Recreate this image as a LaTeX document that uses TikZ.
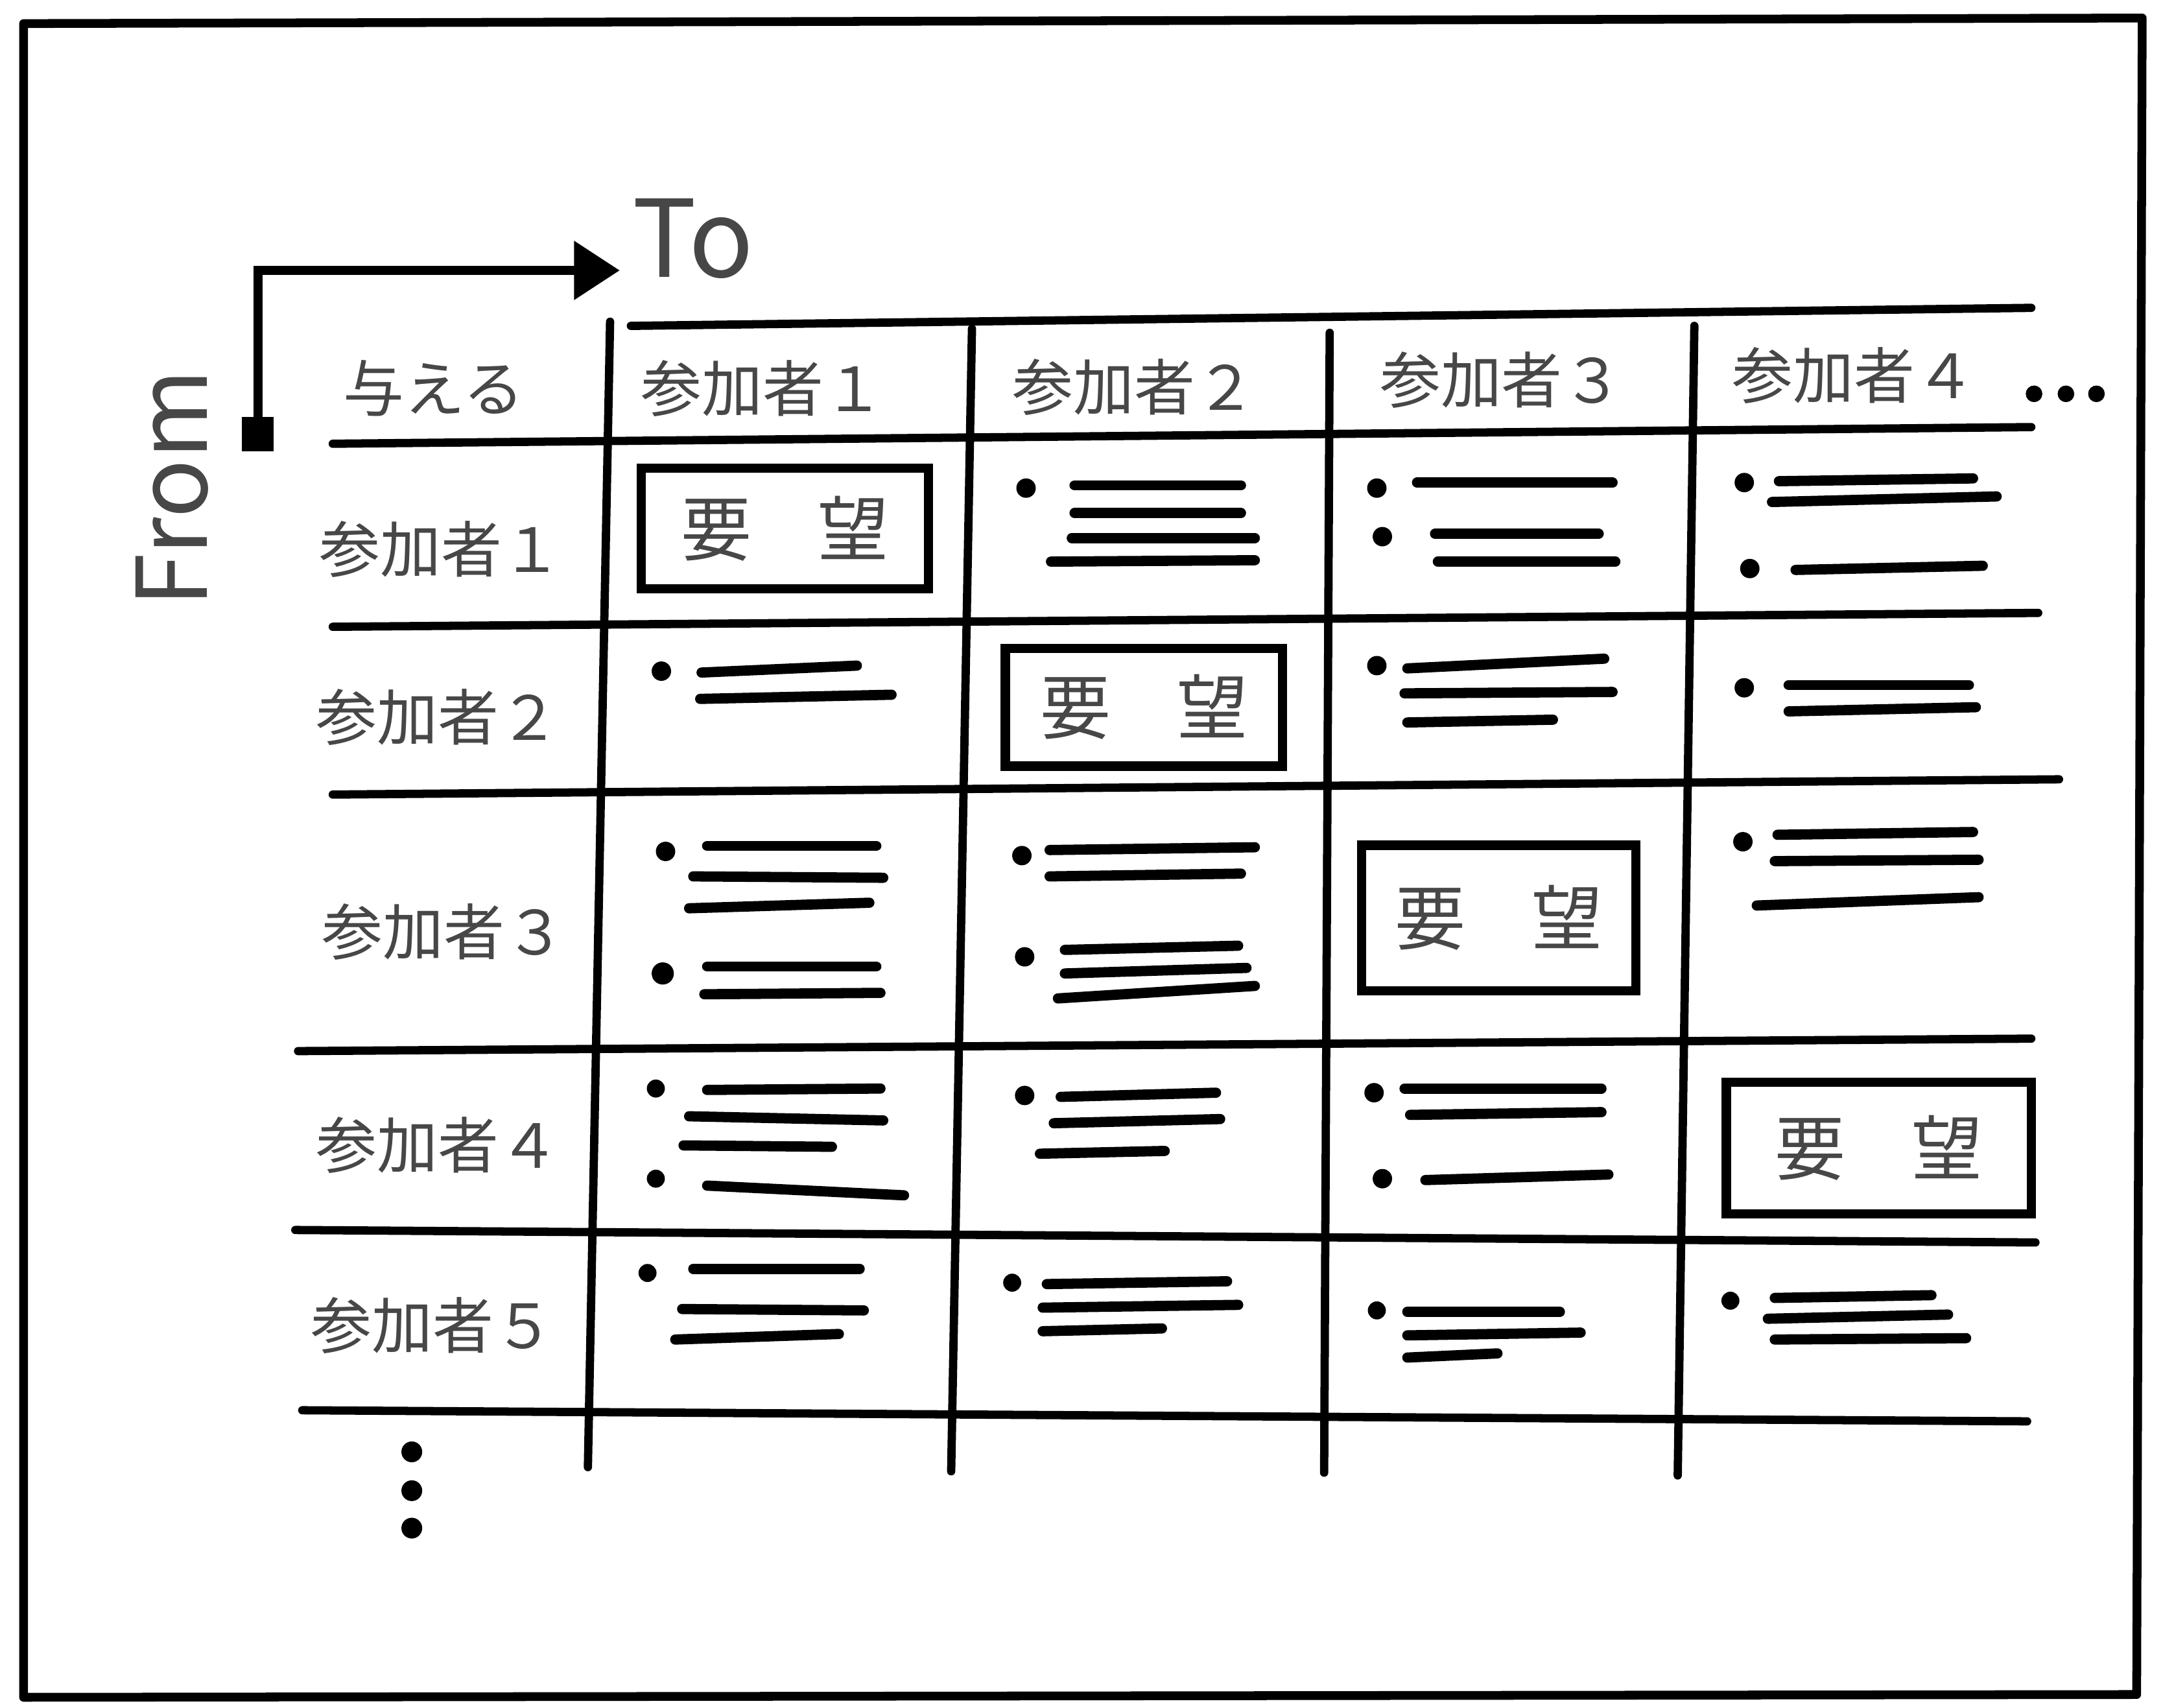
\documentclass[tikz,border=0pt]{standalone}
\usepackage{fontspec}
\newfontfamily\cjk{Noto Sans CJK JP}
\usetikzlibrary{arrows.meta}
\begin{document}
\begin{tikzpicture}[x=0.02cm,y=-0.02cm,
  gridline/.style={line width=3.4pt, line cap=round},
  itemline/.style={line width=4.2pt, line cap=round},
  framebox/.style={line width=3.6pt, line join=round},
  lbl/.style={font=\cjk\fontsize{25}{30}\selectfont, text=black!72, inner sep=0pt},
  big/.style={font=\cjk\fontsize{44}{50}\selectfont, text=black!72, inner sep=0pt},
  wish/.style={draw, line width=3.8pt, font=\cjk\fontsize{29}{34}\selectfont, text=black!72, inner sep=0pt},
  dotmark/.style={fill=black}
]
\useasboundingbox (0,0) rectangle (1560,1231.3);
% outer frame
\draw[framebox] (17,17) -- (1545,13) -- (1541,1222) -- (17,1224) -- cycle;

% arrow From -> To
\node[fill=black, minimum width=0.46cm, minimum height=0.5cm, inner sep=0pt] (fromsq) at (186,313) {};
\coordinate (arrowtip) at (447,195);
\draw[line width=3.8pt, -{Triangle[length=0.66cm,width=0.82cm]}] (fromsq.center) |- (arrowtip);
\node[big] (to) at (500,172) {To};
\node[big, rotate=90, font=\cjk\fontsize{40}{46}\selectfont] (from) at (124,352) {From};

% horizontal grid lines
\coordinate (h0l) at (455,235); \coordinate (h0r) at (1465,222);
\coordinate (h1l) at (240,320); \coordinate (h1r) at (1465,308);
\coordinate (h2l) at (240,452); \coordinate (h2r) at (1470,442);
\coordinate (h3l) at (240,573); \coordinate (h3r) at (1485,562);
\coordinate (h4l) at (215,758); \coordinate (h4r) at (1465,749);
\coordinate (h5l) at (213,887); \coordinate (h5r) at (1468,896);
\coordinate (h6l) at (218,1017); \coordinate (h6r) at (1462,1025);
\foreach \i in {0,...,6} {\draw[gridline] (h\i l) -- (h\i r);}

% vertical grid lines
\coordinate (v1t) at (440,232); \coordinate (v1b) at (424,1058);
\coordinate (v2t) at (701,237); \coordinate (v2b) at (686,1061);
\coordinate (v3t) at (959,240); \coordinate (v3b) at (955,1062);
\coordinate (v4t) at (1222,235); \coordinate (v4b) at (1210,1064);
\foreach \i in {1,...,4} {\draw[gridline] (v\i t) -- (v\i b);}

% headers
\node[lbl] (give) at (313,280) {与える};
\node[lbl] (c1) at (550,280) {参加者１};
\node[lbl] (c2) at (818,279) {参加者２};
\node[lbl] (c3) at (1083,274) {参加者３};
\node[lbl] (c4) at (1337,271) {参加者４};
\foreach \x in {1467,1490,1512} {\fill[dotmark] (\x,284) circle[radius=0.12cm];}

% row labels
\node[lbl] (r1) at (318,396) {参加者１};
\node[lbl] (r2) at (316,517) {参加者２};
\node[lbl] (r3) at (320,672) {参加者３};
\node[lbl] (r4) at (316,826) {参加者４};
\node[lbl] (r5) at (312,956) {参加者５};
\foreach \y in {1047,1075,1102} {\fill[dotmark] (297,\y) circle[radius=0.15cm];}

% wish boxes (diagonal)
\node[wish, minimum width=4.14cm, minimum height=1.74cm] (w1) at (566,381) {要\hspace{0.95cm}望};
\node[wish, minimum width=4.0cm, minimum height=1.7cm] (w2) at (825,510) {要\hspace{0.95cm}望};
\node[wish, minimum width=3.96cm, minimum height=2.1cm] (w3) at (1081,662) {要\hspace{0.95cm}望};
\node[wish, minimum width=4.4cm, minimum height=1.9cm] (w4) at (1355,828) {要\hspace{0.95cm}望};

% ---- row 1 ----
\fill[dotmark] (740,352) circle[radius=0.14cm];
\draw[itemline] (775,350) -- (895,350);
\draw[itemline] (775,370) -- (895,370);
\draw[itemline] (773,388) -- (905,388);
\draw[itemline] (758,405) -- (905,404);
\fill[dotmark] (993,352) circle[radius=0.14cm];
\draw[itemline] (1022,348) -- (1163,348);
\fill[dotmark] (997,387) circle[radius=0.14cm];
\draw[itemline] (1035,385) -- (1153,385);
\draw[itemline] (1037,405) -- (1165,405);
\fill[dotmark] (1258,348) circle[radius=0.14cm];
\draw[itemline] (1283,347) -- (1423,345);
\draw[itemline] (1278,362) -- (1440,358);
\fill[dotmark] (1262,410) circle[radius=0.14cm];
\draw[itemline] (1295,411) -- (1430,408);

% ---- row 2 ----
\fill[dotmark] (477,484) circle[radius=0.14cm];
\draw[itemline] (506,485) -- (618,480);
\draw[itemline] (505,504) -- (643,501);
\fill[dotmark] (993,480) circle[radius=0.14cm];
\draw[itemline] (1015,482) -- (1157,475);
\draw[itemline] (1013,500) -- (1163,499);
\draw[itemline] (1015,521) -- (1120,519);
\fill[dotmark] (1258,496) circle[radius=0.14cm];
\draw[itemline] (1290,494) -- (1420,494);
\draw[itemline] (1290,513) -- (1425,510);

% ---- row 3 ----
\fill[dotmark] (480,614) circle[radius=0.14cm];
\draw[itemline] (510,610) -- (632,610);
\draw[itemline] (500,632) -- (637,633);
\draw[itemline] (497,655) -- (627,651);
\fill[dotmark] (478,702) circle[radius=0.16cm];
\draw[itemline] (510,697) -- (632,697);
\draw[itemline] (508,717) -- (635,716);
\fill[dotmark] (737,617) circle[radius=0.14cm];
\draw[itemline] (757,613) -- (905,611);
\draw[itemline] (757,632) -- (895,630);
\fill[dotmark] (739,690) circle[radius=0.14cm];
\draw[itemline] (768,685) -- (893,682);
\draw[itemline] (768,702) -- (899,698);
\draw[itemline] (763,720) -- (905,711);
\fill[dotmark] (1257,607) circle[radius=0.14cm];
\draw[itemline] (1282,602) -- (1423,600);
\draw[itemline] (1280,621) -- (1427,620);
\draw[itemline] (1267,653) -- (1427,647);

% ---- row 4 ----
\fill[dotmark] (473,785) circle[radius=0.13cm];
\draw[itemline] (510,786) -- (635,785);
\draw[itemline] (497,805) -- (637,808);
\draw[itemline] (493,826) -- (600,827);
\fill[dotmark] (473,850) circle[radius=0.13cm];
\draw[itemline] (510,855) -- (652,862);
\fill[dotmark] (739,790) circle[radius=0.14cm];
\draw[itemline] (765,791) -- (877,788);
\draw[itemline] (760,810) -- (880,807);
\draw[itemline] (750,832) -- (840,830);
\fill[dotmark] (991,788) circle[radius=0.14cm];
\draw[itemline] (1013,785) -- (1155,785);
\draw[itemline] (1017,804) -- (1155,802);
\fill[dotmark] (997,850) circle[radius=0.14cm];
\draw[itemline] (1028,851) -- (1160,847);

% ---- row 5 ----
\fill[dotmark] (467,918) circle[radius=0.13cm];
\draw[itemline] (500,915) -- (620,915);
\draw[itemline] (492,944) -- (623,945);
\draw[itemline] (487,966) -- (605,962);
\fill[dotmark] (730,925) circle[radius=0.13cm];
\draw[itemline] (755,926) -- (885,924);
\draw[itemline] (752,943) -- (893,941);
\draw[itemline] (752,960) -- (838,958);
\fill[dotmark] (993,945) circle[radius=0.13cm];
\draw[itemline] (1015,946) -- (1125,946);
\draw[itemline] (1015,963) -- (1140,961);
\draw[itemline] (1015,979) -- (1080,976);
\fill[dotmark] (1248,938) circle[radius=0.13cm];
\draw[itemline] (1280,936) -- (1393,934);
\draw[itemline] (1275,951) -- (1405,948);
\draw[itemline] (1280,966) -- (1418,965);
\end{tikzpicture}
\end{document}
